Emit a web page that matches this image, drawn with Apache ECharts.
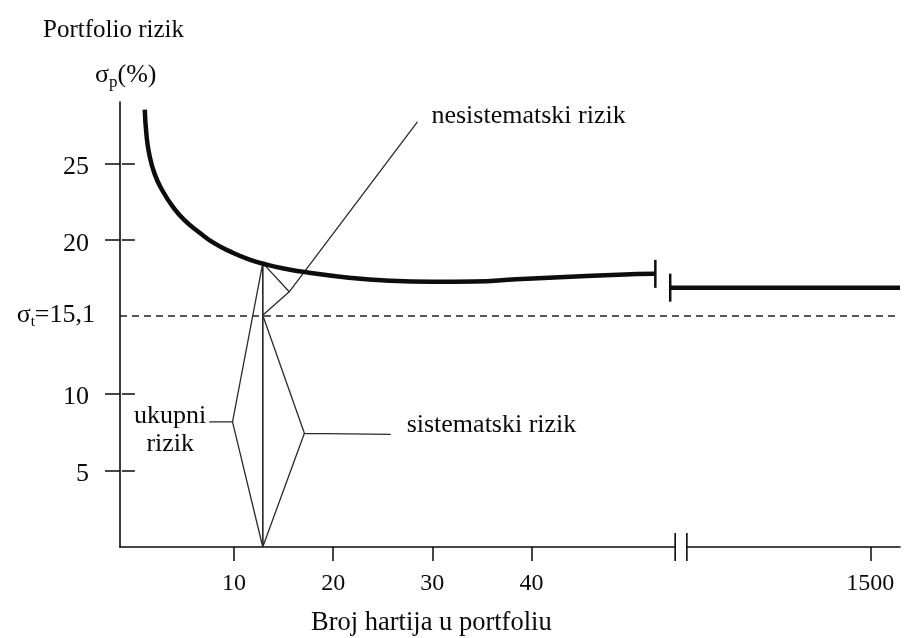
<!DOCTYPE html>
<html><head><meta charset="utf-8">
<script src="https://cdn.jsdelivr.net/npm/echarts@6/dist/echarts.min.js"></script>
<style>html,body{margin:0;padding:0;background:#fff}#c{width:916px;height:638px}</style>
</head><body><div id="c"></div><script>
// ---- data ----
const curveX = [1.0, 1.15, 1.45, 2.0, 2.8, 3.8, 5.0, 6.5, 8.0, 9.8, 11.5, 13.3, 15.0, 17.3, 21.6, 25.7, 30.0, 34.2, 38.5, 45.0, 48.8, 52.5];
const curveY = [28.5, 27.0, 25.6, 24.3, 23.2, 22.2, 21.3, 20.5, 19.8, 19.2, 18.75, 18.4, 18.15, 17.9, 17.55, 17.35, 17.28, 17.3, 17.45, 17.65, 17.75, 17.8];
const tailX = [54.0, 1503];
const tailY = [16.9, 16.9];
const sigmaT = 15.1;
const xTickValues = [10, 20, 30, 40, 1500];
const yTickValues = [5, 10, 20, 25];
const xBreak = [54.5, 1481.5];
const nPoint = 12.9;          // broj hartija at which risk is split
const nTotal = 18.5;          // total risk at nPoint
// annotation pointers: [x, y] vertices
const ukupniPath = [[7.5, 8.16], [9.85, 8.16], [nPoint, nTotal], [nPoint, 0], [9.85, 8.16]];
const sistemPath = [[25.8, 7.34], [17.1, 7.41], [nPoint, sigmaT], [nPoint, 0], [17.1, 7.41]];
const nesistPath = [[28.5, 27.7], [15.57, 16.63], [nPoint, nTotal], [nPoint, sigmaT], [15.57, 16.63]];
const labelTexts = ['nesistematski rizik', 'sistematski rizik', 'ukupni\nrizik'];

const FONT = 'Liberation Serif';
const INK = '#0a0a0a';
const chart = echarts.init(document.getElementById('c'), null, {renderer: 'canvas'});

const curveData = curveX.map((x, i) => {
  const d = {value: [x, curveY[i]]};
  if (i === curveX.length - 1) { d.symbol = 'rect'; d.symbolSize = [2.5, 28]; }
  return d;
});
const tailData = tailX.map((x, i) => {
  const d = {value: [x, tailY[i]]};
  if (i === 0) { d.symbol = 'rect'; d.symbolSize = [2.5, 28]; }
  return d;
});

const xCommon = {
  type: 'value', min: -1.5, max: 1503,
  breaks: [{start: xBreak[0], end: xBreak[1], gap: '1.5%'}],
  breakArea: {show: false},
  splitLine: {show: false}
};
const yCommon = {type: 'value', min: 0, max: 29, splitLine: {show: false}};

const annLine = (data) => ({
  type: 'line', data: data, symbol: 'none', silent: true, z: 3,
  lineStyle: {color: '#2a2a2a', width: 1.3}
});

chart.setOption({
  animation: false,
  backgroundColor: '#fff',
  grid: {left: 120, right: 16, top: 102, bottom: 91, containLabel: false},
  title: [
    {text: 'Portfolio rizik', left: 38, top: 13,
     textStyle: {fontFamily: FONT, fontSize: 25, fontWeight: 'normal', color: INK}},
    {text: '{a|σ}{b|p}{a|(%)}', left: 90, top: 55,
     textStyle: {fontWeight: 'normal', rich: {
       a: {fontFamily: FONT, fontSize: 26, fontWeight: 'normal', color: INK},
       b: {fontFamily: FONT, fontSize: 17, fontWeight: 'normal', color: INK, padding: [14, 0, 0, 0]}}}},
    {text: 'Broj hartija u portfoliu', left: 306, top: 605,
     textStyle: {fontFamily: FONT, fontSize: 26.5, fontWeight: 'normal', color: INK}}
  ],
  xAxis: [
    Object.assign({}, xCommon, {
      axisLine: {show: true, onZero: false, lineStyle: {color: INK, width: 1.6}},
      axisTick: {show: true, customValues: xTickValues, length: 14, inside: false, lineStyle: {color: INK, width: 1.5}},
      axisLabel: {show: true, customValues: xTickValues, margin: 25, color: INK, fontFamily: FONT, fontSize: 24,
        formatter: v => String(v)}
    }),
    Object.assign({}, xCommon, {
      axisLine: {show: false},
      axisTick: {show: true, customValues: xTickValues, length: 12, inside: true, lineStyle: {color: INK, width: 1.5}},
      axisLabel: {show: false}
    })
  ],
  yAxis: [
    Object.assign({}, yCommon, {
      axisLine: {show: true, onZero: false, lineStyle: {color: INK, width: 1.6}},
      axisTick: {show: true, customValues: yTickValues, length: 15, inside: false, lineStyle: {color: INK, width: 1.5}},
      axisLabel: {show: true, customValues: yTickValues, margin: 31, color: INK, fontFamily: FONT, fontSize: 26,
        formatter: v => '{n|' + v + '}',
        rich: {n: {fontFamily: FONT, fontSize: 26, color: INK, padding: [8, 0, 0, 0]}}}
    }),
    Object.assign({}, yCommon, {
      axisLine: {show: false},
      axisTick: {show: true, customValues: yTickValues, length: 13, inside: true, lineStyle: {color: INK, width: 1.5}},
      axisLabel: {show: false}
    })
  ],
  series: [
    {type: 'line', name: 'rizik', data: curveData, symbol: 'none', showSymbol: true, smooth: 0.5,
     lineStyle: {color: '#0d0d0d', width: 4.5}, itemStyle: {color: '#0d0d0d'}, z: 5,
     markLine: {silent: true, symbol: 'none',
       label: {show: true, position: 'start', distance: 25, color: INK,
         formatter: '{a|σ}{b|t}{a|=' + String(sigmaT).replace('.', ',') + '}',
         rich: {
           a: {fontFamily: FONT, fontSize: 26, color: INK},
           b: {fontFamily: FONT, fontSize: 15, color: INK, padding: [14, 0, 0, 0]}
         }},
       lineStyle: {color: '#222', type: [7, 5], width: 1.5}, data: [{yAxis: sigmaT}]}},
    {type: 'line', name: 'rizik2', data: tailData, symbol: 'none', showSymbol: true,
     lineStyle: {color: '#0d0d0d', width: 4.5}, itemStyle: {color: '#0d0d0d'}, z: 5},
    annLine(ukupniPath), annLine(sistemPath), annLine(nesistPath),
    {type: 'scatter', silent: true, clip: false, symbol: 'rect', symbolSize: [1.6, 28],
     itemStyle: {color: INK, opacity: 1}, data: xBreak.map(b => [b, 0]), z: 6},
    {type: 'scatter', silent: true, symbolSize: 0, z: 7, itemStyle: {color: INK, opacity: 1},
     data: [
       {value: nesistPath[0], label: {formatter: labelTexts[0], align: 'left', offset: [14, -6]}},
       {value: sistemPath[0], label: {formatter: labelTexts[1], align: 'left', offset: [16, -9]}},
       {value: ukupniPath[0], label: {formatter: labelTexts[2], align: 'center', offset: [-39, 8], lineHeight: 28}}
     ],
     label: {show: true, position: 'inside', color: INK, opacity: 1, textBorderWidth: 0, textBorderColor: 'transparent',
       fontFamily: FONT, fontSize: 26, verticalAlign: 'middle'}}
  ]
});
</script></body></html>
